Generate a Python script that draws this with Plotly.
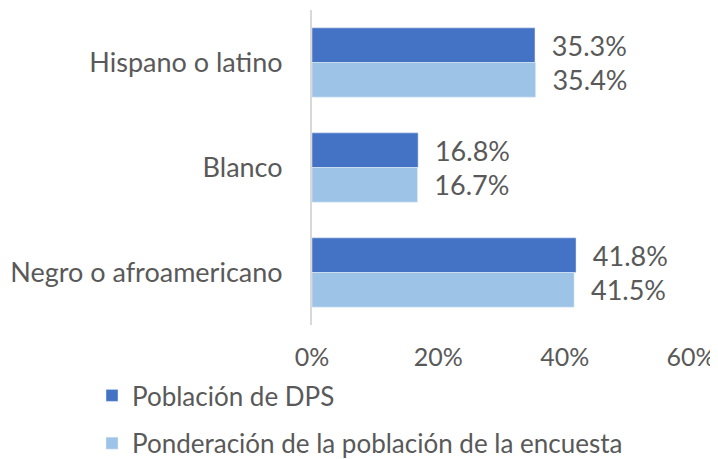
import plotly.graph_objects as go

categories = ["Hispano o latino", "Blanco", "Negro o afroamericano"]
dps_values = [35.3, 16.8, 41.8]
weight_values = [35.4, 16.7, 41.5]
series_names = ["Población de DPS", "Ponderación de la población de la encuesta"]
tick_vals = [0, 20, 40, 60]
tick_text = ["0%", "20%", "40%", "60%"]

FONT = "Lato"
TXT = "#595959"
FS = 27

# page has an 8px body margin; figure is sized/positioned to compensate
OFF = 8
W, H = 718, 459 - OFF

fig = go.Figure()
fig.add_trace(go.Bar(
    y=categories, x=dps_values, orientation="h", name=series_names[0],
    marker=dict(color="#4472C4"), legendgroup="a",
    text=[f"{v:.1f}%" for v in dps_values], texttemplate="  %{text}",
    textposition="outside", textfont=dict(family=FONT, size=FS, color=TXT),
    cliponaxis=False,
))
fig.add_trace(go.Bar(
    y=categories, x=weight_values, orientation="h", name=series_names[1],
    marker=dict(color="#9DC3E6"), legendgroup="b",
    text=[f"{v:.1f}%" for v in weight_values], texttemplate="  %{text}",
    textposition="outside", textfont=dict(family=FONT, size=FS, color=TXT),
    cliponaxis=False,
))

fig.update_layout(
    width=W, height=H,
    margin=dict(l=312 - OFF, r=W - (691 - OFF), t=10 - OFF, b=(H + OFF) - 325, autoexpand=False),
    paper_bgcolor="white", plot_bgcolor="white",
    barmode="group", bargap=0.34, bargroupgap=0,
    font=dict(family=FONT, size=FS, color=TXT),
    xaxis=dict(range=[0, 60], tickvals=tick_vals, ticktext=tick_text,
               showgrid=False, zeroline=False, showline=False,
               ticks="", ticklabelstandoff=15, tickangle=0, automargin=False,
               tickfont=dict(family=FONT, size=25, color=TXT)),
    yaxis=dict(autorange="reversed", showgrid=False, zeroline=False,
               showline=True, linecolor="#D9D9D9", linewidth=2,
               ticks="", ticklabelstandoff=22, automargin=False,
               tickfont=dict(family=FONT, size=FS, color=TXT)),
    legend=dict(orientation="v", xref="container", yref="container",
                x=(92 - OFF) / W, y=1 - (372 - OFF) / H, xanchor="left", yanchor="top",
                traceorder="grouped", tracegroupgap=11,
                font=dict(family=FONT, size=26, color=TXT)),
    showlegend=True,
)

fig.write_html("out.html")
